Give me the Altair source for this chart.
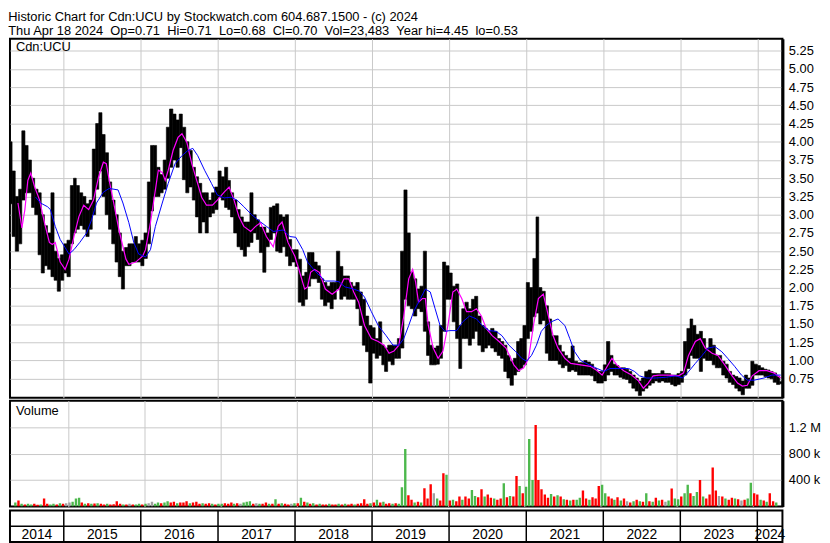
import pandas as pd
import altair as alt

FONT = "Liberation Sans"

TITLE_LINES = [
    "Historic Chart for Cdn:UCU by Stockwatch.com 604.687.1500 - (c) 2024",
    "Thu Apr 18 2024 \u00a0Op=0.71 \u00a0Hi=0.71 \u00a0Lo=0.68 \u00a0Cl=0.70 \u00a0Vol=23,483 \u00a0Year hi=4.45 \u00a0lo=0.53",
]
PANEL_LABELS = ["Cdn:UCU", "Volume"]
YEARS = [2014, 2015, 2016, 2017, 2018, 2019, 2020, 2021, 2022, 2023, 2024]
PRICE_TICKS = [0.75, 1.00, 1.25, 1.50, 1.75, 2.00, 2.25, 2.50, 2.75, 3.00,
               3.25, 3.50, 3.75, 4.00, 4.25, 4.50, 4.75, 5.00, 5.25]
VOLUME_TICKS = [400000, 800000, 1200000]

# semi-monthly high / low (period starting 2014-04-16)
HIGH_2014 = [4.0, 3.6, 3.25, 3.35, 4.15, 3.95, 3.75, 3.5, 3.35, 3.3, 3.0, 2.85, 2.75, 3.3, 2.5, 2.4, 2.45]
LOW_2014 = [3.15, 2.7, 2.5, 2.6, 3.2, 3.3, 3.3, 3.1, 3.0, 2.45, 2.2, 2.3, 2.25, 2.15, 2.1, 1.95, 2.1]
HIGH_2015 = [2.6, 2.65, 3.4, 3.5, 3.4, 3.3, 3.25, 3.15, 3.2, 3.9, 4.25, 4.4, 4.1, 3.85, 3.45, 3.2, 3.0, 2.75, 2.5, 2.55, 2.6, 2.6, 2.7, 2.6]
LOW_2015 = [2.2, 2.15, 2.6, 2.75, 2.8, 2.85, 2.8, 2.7, 2.8, 3.0, 3.35, 3.6, 3.25, 3.0, 2.8, 2.6, 2.35, 2.15, 1.98, 2.3, 2.3, 2.35, 2.35, 2.35]
HIGH_2016 = [2.65, 2.75, 3.45, 3.95, 3.95, 3.65, 3.55, 3.75, 4.2, 4.45, 4.38, 4.3, 4.38, 4.2, 4.0, 3.88, 3.65, 3.52, 3.43, 3.3, 3.3, 3.2, 3.3, 3.38]
LOW_2016 = [2.3, 2.4, 2.6, 3.05, 3.25, 3.25, 3.3, 3.35, 3.5, 3.65, 3.75, 3.65, 3.92, 3.48, 3.3, 3.38, 3.2, 2.97, 2.75, 2.9, 2.75, 2.97, 3.02, 3.07]
HIGH_2017 = [3.6, 3.52, 3.65, 3.47, 3.3, 3.2, 3.07, 2.97, 2.9, 2.9, 3.3, 3.0, 2.93, 2.83, 2.83, 2.75, 3.1, 3.12, 3.15, 3.0, 2.97, 3.0, 2.66, 2.52]
LOW_2017 = [3.24, 3.2, 3.1, 3.07, 2.97, 2.75, 2.56, 2.52, 2.43, 2.56, 2.62, 2.75, 2.66, 2.48, 2.21, 2.56, 2.66, 2.75, 2.5, 2.48, 2.56, 2.43, 2.3, 2.35]
HIGH_2018 = [2.52, 2.39, 2.16, 2.21, 2.48, 2.48, 2.35, 2.3, 2.12, 2.07, 2.02, 2.07, 2.07, 2.5, 2.29, 2.16, 2.16, 2.07, 2.02, 2.07, 1.94, 1.84, 1.61, 1.48]
LOW_2018 = [2.29, 1.8, 1.75, 1.84, 2.02, 2.12, 2.12, 2.07, 1.84, 1.75, 1.8, 1.71, 1.84, 1.98, 1.84, 1.88, 1.84, 1.84, 1.84, 1.71, 1.48, 1.21, 1.12, 0.69]
HIGH_2019 = [1.45, 1.3, 1.53, 1.21, 1.17, 1.21, 1.21, 1.21, 1.3, 2.5, 3.34, 2.75, 2.21, 2.12, 1.98, 2.02, 2.5, 1.53, 1.21, 1.17, 1.2, 1.48, 2.35, 2.3]
LOW_2019 = [1.1, 1.03, 1.07, 0.94, 0.85, 0.99, 0.94, 1.03, 1.03, 1.17, 1.84, 1.75, 1.71, 1.61, 1.71, 1.67, 1.4, 1.07, 0.94, 0.94, 0.95, 1.03, 1.4, 1.84]
HIGH_2020 = [2.2, 2.02, 2.05, 1.48, 1.71, 1.8, 1.71, 1.84, 1.88, 1.61, 1.48, 1.44, 1.4, 1.44, 1.4, 1.3, 1.26, 1.21, 1.07, 0.99, 1.03, 1.26, 1.3, 1.48]
LOW_2020 = [1.84, 1.53, 1.3, 0.89, 1.3, 1.3, 1.21, 1.3, 1.4, 1.21, 1.12, 1.17, 1.21, 1.17, 1.12, 1.07, 1.03, 0.85, 0.76, 0.66, 0.8, 0.85, 0.89, 0.94]
HIGH_2021 = [2.07, 2.0, 2.4, 2.97, 2.0, 1.95, 1.75, 1.57, 1.34, 1.34, 1.21, 1.12, 1.07, 1.03, 1.2, 0.99, 0.97, 0.97, 1.0, 0.98, 0.95, 0.89, 0.85, 0.85]
LOW_2021 = [1.3, 1.4, 1.6, 1.65, 1.5, 1.55, 1.1, 1.0, 1.0, 1.0, 0.95, 0.9, 0.93, 0.85, 0.87, 0.85, 0.8, 0.8, 0.8, 0.8, 0.79, 0.72, 0.69, 0.69]
HIGH_2022 = [0.94, 1.26, 1.07, 0.95, 0.93, 0.9, 0.9, 0.88, 0.85, 0.8, 0.76, 0.72, 0.76, 0.85, 0.87, 0.82, 0.82, 0.82, 0.86, 0.82, 0.82, 0.8, 0.8, 0.82]
LOW_2022 = [0.72, 0.8, 0.85, 0.8, 0.8, 0.77, 0.75, 0.74, 0.69, 0.62, 0.58, 0.52, 0.58, 0.62, 0.66, 0.69, 0.72, 0.7, 0.72, 0.7, 0.7, 0.67, 0.65, 0.67]
HIGH_2023 = [0.85, 1.26, 1.44, 1.57, 1.48, 1.36, 1.4, 1.3, 1.17, 1.3, 1.21, 1.07, 1.07, 0.99, 0.95, 0.85, 0.8, 0.78, 0.76, 0.72, 0.8, 0.76, 0.99, 0.95]
LOW_2023 = [0.7, 0.8, 0.89, 1.07, 1.03, 1.03, 0.85, 1.03, 1.0, 1.0, 0.94, 0.9, 0.9, 0.8, 0.76, 0.7, 0.67, 0.62, 0.58, 0.53, 0.62, 0.62, 0.66, 0.8]
HIGH_2024 = [0.93, 0.9, 0.88, 0.87, 0.85, 0.83, 0.78, 0.71]
LOW_2024 = [0.8, 0.8, 0.78, 0.76, 0.75, 0.7, 0.67, 0.68]

# volume (thousands) and direction (g up, r down, n unchanged)
VOL_2014 = [60, 90, 40, 30, 40, 30, 40, 25, 30, 120, 40, 30, 40, 30, 50, 40, 50]
DIR_2014 = "grgrggrrgrrggrgrn"
VOL_2015 = [60, 70, 120, 130, 60, 40, 50, 40, 45, 50, 40, 30, 40, 30, 35, 80, 40, 30, 30, 40, 30, 30, 40, 30]
DIR_2015 = "ngggrgrgrgrrgrrrrgrnrggr"
VOL_2016 = [40, 50, 70, 40, 60, 50, 60, 80, 60, 70, 50, 60, 60, 80, 50, 60, 70, 40, 50, 40, 50, 40, 30, 40]
DIR_2016 = "gnnggrggrrgrrrgrrrgrrgrg"
VOL_2017 = [40, 50, 40, 60, 40, 50, 40, 60, 70, 80, 40, 50, 40, 40, 60, 40, 40, 110, 40, 50, 40, 30, 40, 50]
DIR_2017 = "grrrgrngggrngrrgrgrgrrng"
VOL_2018 = [50, 130, 70, 60, 40, 50, 30, 40, 30, 30, 40, 30, 30, 40, 30, 40, 30, 40, 30, 40, 50, 110, 40, 50]
DIR_2018 = "rgrgrgrgrrgrrgrgrrgrrrrg"
VOL_2019 = [60, 100, 60, 70, 40, 50, 40, 50, 40, 290, 870, 170, 100, 60, 70, 60, 274, 120, 335, 200, 120, 90, 503, 480]
DIR_2019 = "rgrgrrgrgggrrgrgrrrngrrg"
VOL_2020 = [90, 100, 80, 150, 100, 150, 120, 250, 160, 140, 260, 150, 180, 130, 120, 100, 120, 350, 140, 160, 150, 460, 310, 200]
DIR_2020 = "rgrrgrrggrrgrrgrrgrgrrgr"
VOL_2021 = [300, 1020, 400, 1230, 400, 260, 180, 130, 190, 150, 170, 150, 110, 100, 90, 100, 100, 130, 240, 120, 100, 140, 120, 310]
DIR_2021 = "gggrrrrrgrgrgrgrggrrgrrr"
VOL_2022 = [330, 200, 150, 120, 100, 140, 90, 120, 80, 60, 80, 100, 80, 70, 200, 80, 70, 130, 90, 100, 70, 90, 270, 120]
DIR_2022 = "ggrrgrgrnrgrgrgrgrgrngrg"
VOL_2023 = [110, 150, 200, 330, 200, 160, 220, 400, 150, 120, 180, 590, 240, 160, 150, 120, 100, 130, 120, 110, 90, 100, 120, 360]
DIR_2023 = "grggrggrgrrrrnrgrrgrnrgg"
VOL_2024 = [200, 180, 100, 90, 70, 200, 80, 60]
DIR_2024 = "rrgrgrrg"

# short moving average (magenta): decimal year, price
MAG_T = [2014.405, 2014.456, 2014.495, 2014.533, 2014.571, 2014.622, 2014.686, 2014.749, 2014.813, 2014.851,
         2014.889, 2014.953, 2015.017, 2015.068, 2015.132, 2015.195, 2015.259, 2015.323, 2015.386, 2015.450,
         2015.514, 2015.552, 2015.590, 2015.641, 2015.717, 2015.807, 2015.845, 2015.934, 2016.023, 2016.061,
         2016.125, 2016.189, 2016.227, 2016.278, 2016.316, 2016.355, 2016.418, 2016.482, 2016.533, 2016.597,
         2016.660, 2016.724, 2016.788, 2016.851, 2016.928, 2016.991, 2017.080, 2017.144, 2017.208, 2017.272,
         2017.335, 2017.424, 2017.488, 2017.552, 2017.628, 2017.717, 2017.781, 2017.832, 2017.908, 2017.998,
         2018.061, 2018.125, 2018.163, 2018.202, 2018.253, 2018.316, 2018.393, 2018.482, 2018.571, 2018.635,
         2018.698, 2018.762, 2018.826, 2018.902, 2018.991, 2019.080, 2019.157, 2019.221, 2019.284, 2019.348,
         2019.412, 2019.476, 2019.527, 2019.565, 2019.603, 2019.654, 2019.692, 2019.730, 2019.794, 2019.858,
         2019.921, 2019.985, 2020.049, 2020.100, 2020.164, 2020.227, 2020.291, 2020.355, 2020.418, 2020.482,
         2020.558, 2020.648, 2020.737, 2020.839, 2020.902, 2020.966, 2021.030, 2021.093, 2021.157, 2021.221,
         2021.285, 2021.348, 2021.412, 2021.501, 2021.577, 2021.705, 2021.832, 2021.921, 2021.985, 2022.023,
         2022.112, 2022.176, 2022.265, 2022.367, 2022.456, 2022.520, 2022.583, 2022.647, 2022.723, 2022.851,
         2022.978, 2023.042, 2023.106, 2023.195, 2023.259, 2023.323, 2023.412, 2023.488, 2023.577, 2023.666,
         2023.743, 2023.806, 2023.870, 2023.934, 2024.023, 2024.125, 2024.214, 2024.303]
MAG_P = [3.16, 2.82, 3.07, 3.47, 3.57, 3.38, 3.20, 2.89, 2.62, 2.59,
         2.62, 2.35, 2.25, 2.39, 2.70, 2.97, 3.13, 3.07, 3.20, 3.51,
         3.72, 3.70, 3.47, 3.20, 2.79, 2.39, 2.32, 2.35, 2.43, 2.52,
         2.89, 3.34, 3.61, 3.58, 3.47, 3.61, 3.88, 4.06, 4.11, 3.99,
         3.70, 3.47, 3.24, 3.13, 3.13, 3.20, 3.31, 3.38, 3.20, 2.97,
         2.84, 2.77, 2.84, 2.89, 2.70, 2.56, 2.84, 2.90, 2.62, 2.43,
         2.21, 1.98, 2.01, 2.21, 2.25, 2.21, 1.98, 1.91, 1.98, 2.12,
         2.12, 1.94, 1.80, 1.48, 1.30, 1.26, 1.21, 1.10, 1.13, 1.21,
         1.61, 2.12, 2.25, 2.08, 1.80, 1.85, 1.85, 1.48, 1.17, 1.03,
         1.13, 1.48, 1.94, 1.98, 1.85, 1.67, 1.67, 1.71, 1.61, 1.44,
         1.34, 1.26, 1.17, 0.94, 0.86, 0.90, 1.03, 1.48, 1.85, 1.91,
         1.62, 1.34, 1.17, 1.03, 0.96, 0.94, 0.92, 0.86, 0.80, 0.87,
         1.03, 0.94, 0.86, 0.80, 0.72, 0.62, 0.69, 0.79, 0.80, 0.80,
         0.79, 0.83, 1.07, 1.26, 1.30, 1.17, 1.10, 1.07, 0.94, 0.80,
         0.69, 0.65, 0.66, 0.79, 0.86, 0.86, 0.83, 0.76]

# long moving average (blue): decimal year, price
BLUE_T = [2014.635, 2014.698, 2014.788, 2014.826, 2014.889, 2014.953, 2015.017, 2015.068, 2015.132, 2015.208,
          2015.297, 2015.361, 2015.425, 2015.514, 2015.590, 2015.705, 2015.768, 2015.845, 2015.909, 2015.972,
          2016.061, 2016.125, 2016.189, 2016.278, 2016.355, 2016.444, 2016.533, 2016.609, 2016.673, 2016.737,
          2016.826, 2016.915, 2016.991, 2017.080, 2017.170, 2017.246, 2017.335, 2017.437, 2017.552, 2017.628,
          2017.717, 2017.845, 2017.934, 2018.010, 2018.100, 2018.163, 2018.265, 2018.393, 2018.507, 2018.571,
          2018.647, 2018.762, 2018.839, 2018.902, 2018.991, 2019.080, 2019.183, 2019.272, 2019.348, 2019.412,
          2019.476, 2019.540, 2019.628, 2019.692, 2019.756, 2019.819, 2019.883, 2019.947, 2020.010, 2020.100,
          2020.176, 2020.265, 2020.355, 2020.431, 2020.520, 2020.609, 2020.685, 2020.775, 2020.864, 2020.940,
          2021.004, 2021.068, 2021.132, 2021.195, 2021.259, 2021.323, 2021.412, 2021.501, 2021.565, 2021.628,
          2021.705, 2021.819, 2021.921, 2022.010, 2022.087, 2022.214, 2022.329, 2022.405, 2022.469, 2022.558,
          2022.685, 2022.813, 2022.940, 2023.030, 2023.093, 2023.195, 2023.284, 2023.361, 2023.450, 2023.539,
          2023.615, 2023.705, 2023.794, 2023.870, 2023.959, 2024.087, 2024.189, 2024.303]
BLUE_P = [3.24, 3.16, 3.11, 3.07, 2.84, 2.66, 2.55, 2.46, 2.52, 2.62,
          2.75, 2.93, 3.16, 3.31, 3.36, 3.34, 3.16, 2.89, 2.62, 2.46,
          2.42, 2.52, 2.84, 3.16, 3.43, 3.70, 3.81, 3.88, 3.91, 3.81,
          3.61, 3.43, 3.27, 3.23, 3.24, 3.20, 3.11, 3.00, 2.90, 2.84,
          2.77, 2.79, 2.70, 2.69, 2.52, 2.35, 2.22, 2.09, 2.09, 2.08,
          2.01, 1.98, 1.95, 1.87, 1.67, 1.48, 1.34, 1.21, 1.21, 1.30,
          1.48, 1.67, 1.85, 1.98, 1.94, 1.71, 1.48, 1.40, 1.41, 1.41,
          1.53, 1.61, 1.57, 1.48, 1.41, 1.40, 1.34, 1.21, 1.12, 1.03,
          0.99, 1.07, 1.21, 1.40, 1.48, 1.53, 1.57, 1.48, 1.30, 1.12,
          1.00, 0.94, 0.89, 0.85, 0.89, 0.89, 0.89, 0.85, 0.79, 0.76,
          0.76, 0.77, 0.79, 0.76, 0.83, 0.96, 1.07, 1.17, 1.19, 1.12,
          1.03, 0.92, 0.80, 0.73, 0.73, 0.76, 0.80, 0.80]

# ---------------------------------------------------------------- tables
HIGH = HIGH_2014 + HIGH_2015 + HIGH_2016 + HIGH_2017 + HIGH_2018 + HIGH_2019 + HIGH_2020 + HIGH_2021 + HIGH_2022 + HIGH_2023 + HIGH_2024
LOW = LOW_2014 + LOW_2015 + LOW_2016 + LOW_2017 + LOW_2018 + LOW_2019 + LOW_2020 + LOW_2021 + LOW_2022 + LOW_2023 + LOW_2024
VOL = VOL_2014 + VOL_2015 + VOL_2016 + VOL_2017 + VOL_2018 + VOL_2019 + VOL_2020 + VOL_2021 + VOL_2022 + VOL_2023 + VOL_2024
DIRS = DIR_2014 + DIR_2015 + DIR_2016 + DIR_2017 + DIR_2018 + DIR_2019 + DIR_2020 + DIR_2021 + DIR_2022 + DIR_2023 + DIR_2024

starts = []
y, m, d = 2014, 4, 16
for _ in range(len(HIGH)):
    starts.append(pd.Timestamp(y, m, d))
    if d == 1:
        d = 16
    else:
        d = 1
        m += 1
        if m > 12:
            m, y = 1, y + 1
ends = starts[1:] + [pd.Timestamp(y, m, d)]


def dec_to_date(t):
    yr = int(t)
    a = pd.Timestamp(yr, 1, 1)
    b = pd.Timestamp(yr + 1, 1, 1)
    return a + (b - a) * (t - yr)


DIR_NAME = {"g": "up", "r": "down", "n": "flat"}
price_df = pd.DataFrame({"date": starts, "end": ends, "hi": HIGH, "lo": LOW})
vol_df = pd.DataFrame({
    "date": [s + pd.Timedelta(days=7) for s in starts],
    "vol": [v * 1000 for v in VOL],
    "dir": [DIR_NAME[c] for c in DIRS],
})
mag_df = pd.DataFrame({"date": [dec_to_date(t) for t in MAG_T], "p": MAG_P})
blue_df = pd.DataFrame({"date": [dec_to_date(t) for t in BLUE_T], "p": BLUE_P})

X_START = pd.Timestamp(2014, 4, 21)
X_END = pd.Timestamp(2024, 4, 29)
mids, labels = [], []
for yr in YEARS:
    a = max(pd.Timestamp(yr, 1, 1), X_START)
    b = min(pd.Timestamp(yr + 1, 1, 1), X_END)
    mids.append(a + (b - a) / 2)
    labels.append(str(yr))
year_df = pd.DataFrame({"mid": mids, "label": labels})
bound_df = pd.DataFrame({"date": [pd.Timestamp(yr, 1, 1) for yr in YEARS[1:]]})

# ---------------------------------------------------------------- chart
W = 781
x_scale = alt.Scale(domain=[alt.DateTime(year=2014, month=4, date=21),
                            alt.DateTime(year=2024, month=4, date=29)], nice=False)
grid_axis = alt.Axis(values=[alt.DateTime(year=yr, month=1, date=1) for yr in YEARS[1:]],
                     labels=False, ticks=False, domain=False, grid=True,
                     gridColor="#c8c8c8", gridWidth=1, title=None)

price_axis = alt.Axis(orient="right", values=PRICE_TICKS, format=".2f", grid=True,
                      gridColor="#c8c8c8", ticks=False, domain=True, domainColor="black",
                      domainWidth=3, labelFont=FONT, labelFontSize=13, labelColor="black",
                      labelPadding=6, labelOverlap=False, labelSeparation=0, title=None)
price_scale = alt.Scale(domain=[0.49, 5.415], nice=False, zero=False)

bars = alt.Chart(price_df).mark_bar(color="black", stroke="black", strokeWidth=0.6, clip=True).encode(
    x=alt.X("date:T", scale=x_scale, axis=grid_axis),
    x2="end:T",
    y=alt.Y("lo:Q", scale=price_scale, axis=price_axis),
    y2="hi:Q",
)
mag = alt.Chart(mag_df).mark_line(color="#ff00ff", strokeWidth=1.2, clip=True).encode(
    x=alt.X("date:T", scale=x_scale, axis=grid_axis),
    y=alt.Y("p:Q", scale=price_scale, axis=price_axis))
blue = alt.Chart(blue_df).mark_line(color="#0000ff", strokeWidth=1, clip=True).encode(
    x=alt.X("date:T", scale=x_scale, axis=grid_axis),
    y=alt.Y("p:Q", scale=price_scale, axis=price_axis))
plabel = alt.Chart(pd.DataFrame({"t": [PANEL_LABELS[0]]})).mark_text(
    align="left", baseline="top", font=FONT, fontSize=13, color="black").encode(
    text="t:N", x=alt.value(6), y=alt.value(3))
price = alt.layer(bars, mag, blue, plabel).properties(width=W, height=363)

vol_axis = alt.Axis(orient="right", values=VOLUME_TICKS, grid=True, gridColor="#c8c8c8",
                    ticks=False, domain=True, domainColor="black", domainWidth=3,
                    labelFont=FONT, labelFontSize=13, labelColor="black", labelPadding=6,
                    labelOverlap=False, title=None,
                    labelExpr="datum.value >= 1000000 ? format(datum.value / 1000000, '.1f') + ' M' : format(datum.value / 1000, 'd') + ' k'")
vbars = alt.Chart(vol_df).mark_bar(size=2.4, clip=True).encode(
    x=alt.X("date:T", scale=x_scale, axis=grid_axis),
    y=alt.Y("vol:Q", scale=alt.Scale(domain=[0, 1600000], nice=False), axis=vol_axis),
    color=alt.Color("dir:N", scale=alt.Scale(domain=["up", "down", "flat"],
                                             range=["#4cb84c", "#ff0000", "#a0a0a0"]), legend=None),
)
vlabel = alt.Chart(pd.DataFrame({"t": [PANEL_LABELS[1]]})).mark_text(
    align="left", baseline="top", font=FONT, fontSize=13, color="black").encode(
    text="t:N", x=alt.value(6), y=alt.value(5))
volume = alt.layer(vbars, vlabel).properties(width=W, height=107)

seps = alt.Chart(bound_df).mark_rule(color="black", strokeWidth=1.5).encode(
    x=alt.X("date:T", scale=x_scale, axis=None), y=alt.value(0), y2=alt.value(32))
hline = alt.Chart(pd.DataFrame({"a": [0]})).mark_rule(color="black", strokeWidth=1.5).encode(
    x=alt.value(0), x2=alt.value(W), y=alt.value(16))
ylabels = alt.Chart(year_df).mark_text(font=FONT, fontSize=14, color="black", baseline="middle").encode(
    x=alt.X("mid:T", scale=x_scale, axis=None), y=alt.value(24.5), text="label:N")
strip = alt.layer(seps, hline, ylabels).properties(width=W, height=32)

chart = alt.vconcat(price, volume, strip, spacing=1).resolve_scale(y="independent").properties(
    title=alt.Title(TITLE_LINES, anchor="start", font=FONT, fontSize=13, fontWeight="normal",
                    color="black", lineHeight=14, offset=0),
    padding=0,
    background="white",
).configure_view(stroke="black", strokeWidth=2)

chart.save("out.html", embed_options={"renderer": "svg", "actions": False})
